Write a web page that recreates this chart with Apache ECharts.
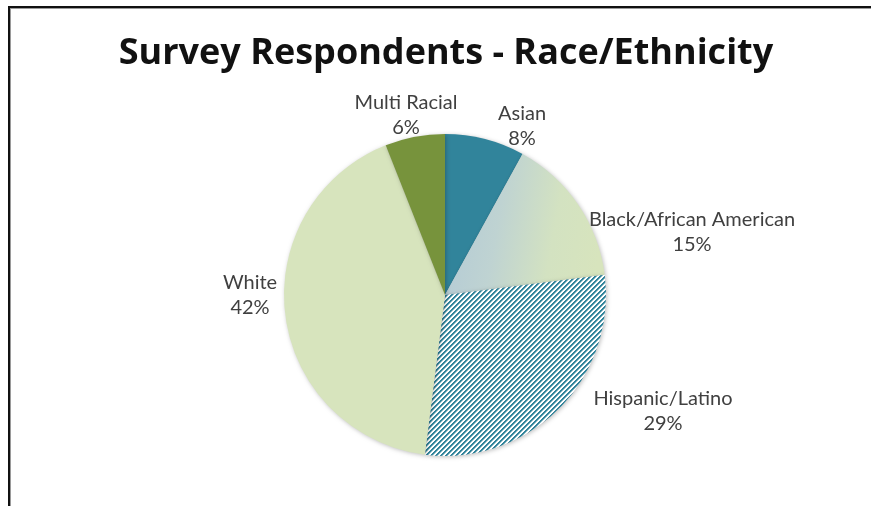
<!DOCTYPE html>
<html>
<head>
<meta charset="utf-8">
<script src="https://cdn.jsdelivr.net/npm/echarts@6/dist/echarts.min.js"></script>
<style>
  html, body { margin: 0; padding: 0; background: #ffffff; }
  #chart { width: 871px; height: 506px; }
</style>
</head>
<body>
<div id="chart"></div>
<script>
// Survey respondents by race / ethnicity (percent of respondents)
const categories = ['Asian', 'Black/African American', 'Hispanic/Latino', 'White', 'Multi Racial'];
const percents = [8, 15, 29, 42, 6];

const chartTitle = 'Survey Respondents - Race/Ethnicity';

// Layout of the pie and its labels
const pieCenter = [445, 295];
const pieRadius = 161;
// label centre offsets from the pie centre, one per category
const labelOffsets = [[77, -169], [247, -63], [218, 116], [-195, 0], [-39, -180]];

const TEAL = '#31849b';
const TEAL_SOFT = '#8fbac6';
const LIGHT_GREEN = '#d7e4bd';
const OLIVE = '#77933c';

// wide upward-diagonal hatch tile for the Hispanic/Latino slice
function hatchTile() {
  const n = 5;
  const c = document.createElement('canvas');
  c.width = n; c.height = n;
  const ctx = c.getContext('2d');
  ctx.fillStyle = '#ffffff';
  ctx.fillRect(0, 0, n, n);
  for (let y = 0; y < n; y++) {
    for (let x = 0; x < n; x++) {
      const k = (x + y) % n;
      if (k < 2) {
        ctx.fillStyle = TEAL;
        ctx.fillRect(x, y, 1, 1);
      } else if (k === 2) {
        ctx.fillStyle = TEAL_SOFT;
        ctx.fillRect(x, y, 1, 1);
      }
    }
  }
  return c;
}

const sliceColors = [
  TEAL,
  new echarts.graphic.LinearGradient(0, 0.3, 1, 0.5, [
    { offset: 0, color: '#b3cad6' },
    { offset: 0.35, color: '#bfd3d2' },
    { offset: 0.7, color: '#d3e2c1' },
    { offset: 1, color: LIGHT_GREEN }
  ]),
  { image: hatchTile(), repeat: 'repeat' },
  LIGHT_GREEN,
  OLIVE
];

const chart = echarts.init(document.getElementById('chart'), null, { renderer: 'canvas' });

chart.setOption({
  backgroundColor: '#ffffff',
  animation: false,
  title: {
    text: chartTitle,
    left: 441,
    top: 31,
    textAlign: 'center',
    textStyle: {
      fontFamily: 'Open Sans',
      fontWeight: 'bold',
      fontSize: 36,
      color: '#111111'
    }
  },
  graphic: [
    // frame lines along the top and left edges
    { type: 'rect', shape: { x: 8, y: 6, width: 863, height: 2 }, style: { fill: '#111111' }, silent: true },
    { type: 'rect', shape: { x: 8, y: 8, width: 863, height: 1 }, style: { fill: '#9a9a9a' }, silent: true },
    { type: 'rect', shape: { x: 8, y: 6, width: 2, height: 500 }, style: { fill: '#111111' }, silent: true },
    { type: 'rect', shape: { x: 10, y: 8, width: 1, height: 498 }, style: { fill: '#9a9a9a' }, silent: true }
  ],
  series: [{
    type: 'pie',
    center: pieCenter,
    radius: pieRadius,
    startAngle: 90,
    clockwise: true,
    avoidLabelOverlap: false,
    data: categories.map((name, i) => ({
      name: name,
      value: percents[i],
      itemStyle: { color: sliceColors[i] }
    })),
    itemStyle: {
      borderWidth: 0,
      shadowBlur: 4,
      shadowColor: 'rgba(0,0,0,0.25)',
      shadowOffsetX: 1,
      shadowOffsetY: 1
    },
    label: {
      show: true,
      position: 'outside',
      formatter: p => p.name + '\n' + p.value + '%',
      fontFamily: 'Lato',
      fontSize: 20,
      lineHeight: 25,
      color: '#404040',
      align: 'center'
    },
    labelLine: { show: false },
    labelLayout: function (params) {
      const off = labelOffsets[params.dataIndex];
      return {
        x: pieCenter[0] + off[0],
        y: pieCenter[1] + off[1],
        align: 'center',
        verticalAlign: 'middle'
      };
    },
    emphasis: { disabled: true }
  }]
});
</script>
</body>
</html>
